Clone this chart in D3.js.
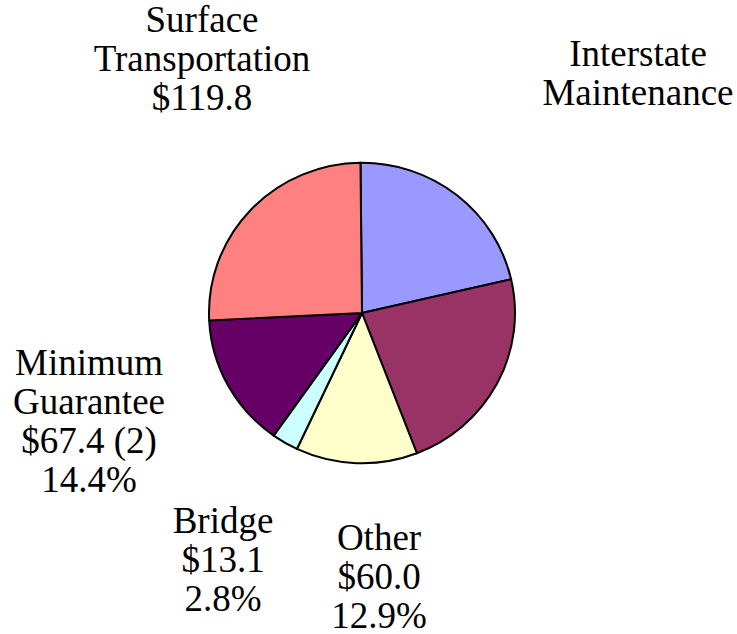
<!DOCTYPE html>
<html>
<head>
<meta charset="utf-8">
<script src="https://cdn.jsdelivr.net/npm/d3@7"></script>
<style>
  html, body { margin: 0; padding: 0; background: #fff; }
  svg { display: block; }
</style>
</head>
<body>
<svg id="chart" width="737" height="634"></svg>
<script>
// program funding (billions), clockwise from 12 o'clock
const programs = ["Interstate Maintenance", "National Highway System", "Other", "Bridge", "Minimum Guarantee", "Surface Transportation"];
const amounts = [100.8, 106.4, 60.0, 13.1, 67.4, 119.8];
const colors = ["#9999ff", "#993366", "#ffffcc", "#ccffff", "#660066", "#ff8080"];

// label text lines for each program (null = unlabeled)
const labelLines = [
    ["Interstate", "Maintenance"],
    null,
    ["Other", "$60.0", "12.9%"],
    ["Bridge", "$13.1", "2.8%"],
    ["Minimum", "Guarantee", "$67.4 (2)", "14.4%"],
    ["Surface", "Transportation", "$119.8"]
];

// where each label block sits (centre x, first baseline y)
const labelPos = [
    [638, 66],
    null,
    [379, 550],
    [223, 533],
    [89, 375],
    [202, 32]
];

const svg = d3.select("#chart");
const cx = 362, cy = 313, radius = 153;
const lineGap = 39;

const data = programs.map((p, i) => ({ name: p, value: amounts[i], color: colors[i] }));

const pie = d3.pie()
    .sort(null)
    .value(d => d.value)
    .startAngle(-0.01)
    .endAngle(2 * Math.PI - 0.01);

const arc = d3.arc().innerRadius(0).outerRadius(radius);

// pie is a touch flatter than wide in the picture
const g = svg.append("g")
    .attr("transform", `translate(${cx},${cy}) scale(1,0.982)`);

g.selectAll("path")
    .data(pie(data))
    .join("path")
    .attr("d", arc)
    .attr("fill", d => d.data.color)
    .attr("stroke", "#000")
    .attr("stroke-width", 2)
    .attr("stroke-linejoin", "round");

// labels
labelLines.forEach((lines, i) => {
    if (!lines) return;
    const [x, y] = labelPos[i];
    const t = svg.append("text")
        .attr("text-anchor", "middle")
        .attr("font-family", "'Liberation Serif'")
        .attr("font-size", 37)
        .attr("fill", "#000");
    lines.forEach((line, j) => {
        t.append("tspan")
            .attr("x", x)
            .attr("y", y + j * lineGap)
            .text(line);
    });
});
</script>
</body>
</html>
